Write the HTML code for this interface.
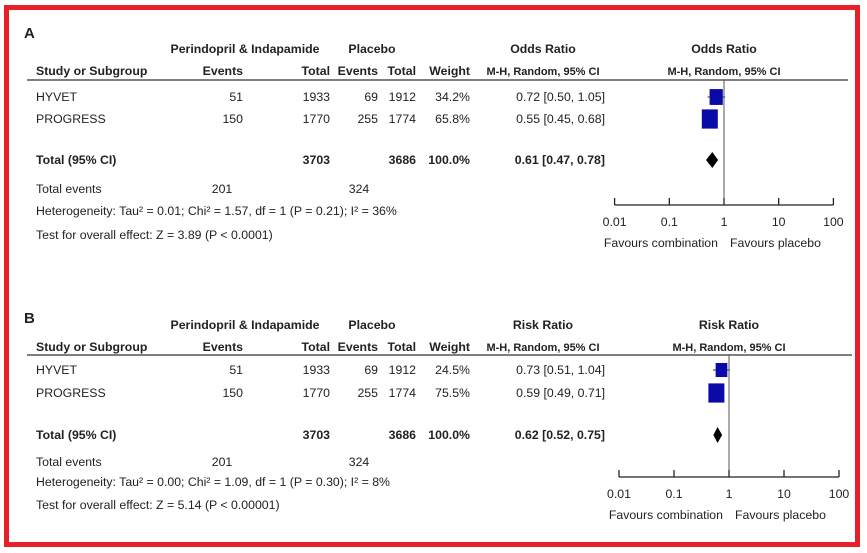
<!DOCTYPE html>
<html><head><meta charset="utf-8">
<style>
html,body{margin:0;padding:0;background:#fff;}
svg{display:block;font-family:"Liberation Sans",Arial,sans-serif;}
text{font-size:12.3px;fill:#222;}
.b{font-weight:bold;}
</style></head>
<body>
<svg id="chart" width="867" height="553" viewBox="0 0 867 553">
<rect x="6.5" y="7.5" width="851" height="537" fill="#fff" stroke="#e8202a" stroke-width="5"/>
</svg>
<script>
const studies = ["HYVET","PROGRESS"];
const expEvents = [51,150];
const expTotal = [1933,1770];
const plaEvents = [69,255];
const plaTotal = [1912,1774];
const weightsA = [34.2,65.8];
const estA = [0.72,0.55];
const lowA = [0.50,0.45];
const highA = [1.05,0.68];
const totalA = [0.61,0.47,0.78];
const weightsB = [24.5,75.5];
const estB = [0.73,0.59];
const lowB = [0.51,0.49];
const highB = [1.04,0.71];
const totalB = [0.62,0.52,0.75];
const tickVals = [0.01,0.1,1,10,100];
const tickLabels = ["0.01","0.1","1","10","100"];

const svg = document.getElementById('chart');
const NS = 'http://www.w3.org/2000/svg';
function mk(tag, attrs, txt){
  const e = document.createElementNS(NS, tag);
  for (const k in attrs) e.setAttribute(k, attrs[k]);
  if (txt !== undefined) e.textContent = txt;
  svg.appendChild(e);
  return e;
}
function t(x,y,s,anchor,bold,name){
  const e = mk('text',{x:x,y:y,'text-anchor':anchor||'start'},s);
  if (bold) e.setAttribute('class','b');
  
  
  return e;
}

function panel(p){
  const o = p.oy, L = p.lay;
  const xs = v => p.x1 + (Math.log10(v))*p.dec;
  t(24, p.letterY, p.letter, 'start', true, 'panel-label').setAttribute('style','font-size:15px');
  t(245, o+17, 'Perindopril & Indapamide','middle',true,'group-header-combination');
  t(372, o+17, 'Placebo','middle',true,'group-header-placebo');
  t(543, o+17, p.measure,'middle',true,'measure-header');
  t(p.x1, o+17, p.measure,'middle',true,'plot-header');
  t(36, o+39, 'Study or Subgroup','start',true,'col-study');
  t(243, o+39, 'Events','end',true,'col-events-combination');
  t(330, o+39, 'Total','end',true,'col-total-combination');
  t(378, o+39, 'Events','end',true,'col-events-placebo');
  t(416, o+39, 'Total','end',true,'col-total-placebo');
  t(470, o+39, 'Weight','end',true,'col-weight');
  const h1 = t(543, o+39, 'M-H, Random, 95% CI','middle',true,'col-ci');
  h1.setAttribute('style','font-size:11px');
  const h2 = t(p.x1, o+39, 'M-H, Random, 95% CI','middle',true,'plot-subheader');
  h2.setAttribute('style','font-size:11px');
  const hl = mk('line',{x1:27,x2:p.lineEnd,y1:o+L[0],y2:o+L[0],stroke:'#555','stroke-width':1.5});
  
  
  const rows = [o+L[1], o+L[2]];
  const wMax = Math.max.apply(null, p.w);
  studies.forEach((s,i)=>{
    const y = rows[i];
    t(36,y,s,'start',false,'study-name');
    t(243,y,String(expEvents[i]),'end',false,'events-combination');
    t(330,y,String(expTotal[i]),'end',false,'total-combination');
    t(378,y,String(plaEvents[i]),'end',false,'events-placebo');
    t(416,y,String(plaTotal[i]),'end',false,'total-placebo');
    t(470,y,p.w[i].toFixed(1)+'%','end',false,'weight');
    t(605,y,p.est[i].toFixed(2)+' ['+p.lo[i].toFixed(2)+', '+p.hi[i].toFixed(2)+']','end',false,'ci-text');
    const cy = y-4;
    const ci = mk('line',{x1:xs(p.lo[i]),x2:xs(p.hi[i]),y1:cy,y2:cy,stroke:'#333','stroke-width':1});
    
    
    const sz = 6 + 10*Math.sqrt(p.w[i]/wMax);
    const sq = mk('rect',{x:xs(p.est[i])-sz/2,y:cy-sz*0.6,width:sz,height:sz*1.2,fill:'#0a0aa8'});
    
    
  });
  const ty = o+L[3];
  t(36,ty,'Total (95% CI)','start',true,'total-label');
  t(330,ty,'3703','end',true,'total-combination-sum');
  t(416,ty,'3686','end',true,'total-placebo-sum');
  t(470,ty,'100.0%','end',true,'total-weight');
  t(605,ty,p.tot[0].toFixed(2)+' ['+p.tot[1].toFixed(2)+', '+p.tot[2].toFixed(2)+']','end',true,'total-ci-text');
  const dy = ty-4;
  const d = mk('polygon',{points:[xs(p.tot[1])+','+dy, xs(p.tot[0])+','+(dy-8), xs(p.tot[2])+','+dy, xs(p.tot[0])+','+(dy+8)].join(' '),fill:'#000'});
  
  
  t(36,o+L[4],'Total events','start',false,'total-events-label');
  t(222,o+L[4],'201','middle',false,'total-events-combination');
  t(359,o+L[4],'324','middle',false,'total-events-placebo');
  t(36,o+L[5],p.het,'start',false,'heterogeneity');
  t(36,o+L[6],p.test,'start',false,'overall-effect');
  const vl = mk('line',{x1:p.x1,x2:p.x1,y1:o+L[0],y2:p.axisY,stroke:'#555','stroke-width':1});
  
  
  const ax = mk('line',{x1:xs(tickVals[0]),x2:xs(tickVals[tickVals.length-1]),y1:p.axisY,y2:p.axisY,stroke:'#222','stroke-width':1.3});
  
  
  tickVals.forEach((v,i)=>{
    const tk = mk('line',{x1:xs(v),x2:xs(v),y1:p.axisY-7,y2:p.axisY,stroke:'#222','stroke-width':1.3});
    
    
    t(xs(v),p.axisY+21,tickLabels[i],'middle',false,'x-tick-label');
  });
  t(p.x1-6,p.axisY+42,'Favours combination','end',false,'favours-combination');
  t(p.x1+6,p.axisY+42,'Favours placebo','start',false,'favours-placebo');
}

panel({letter:'A',letterY:38,oy:36,measure:'Odds Ratio',x1:724,dec:54.7,axisY:205,lineEnd:848,
  lay:[44,65,87,128,157,179,203],
  w:weightsA,est:estA,lo:lowA,hi:highA,tot:totalA,
  het:'Heterogeneity: Tau² = 0.01; Chi² = 1.57, df = 1 (P = 0.21); I² = 36%',
  test:'Test for overall effect: Z = 3.89 (P < 0.0001)'});
panel({letter:'B',letterY:323,oy:312,measure:'Risk Ratio',x1:729,dec:55,axisY:477,lineEnd:852,
  lay:[43,62,85,127,154,174,197],
  w:weightsB,est:estB,lo:lowB,hi:highB,tot:totalB,
  het:'Heterogeneity: Tau² = 0.00; Chi² = 1.09, df = 1 (P = 0.30); I² = 8%',
  test:'Test for overall effect: Z = 5.14 (P < 0.00001)'});
</script>
</body></html>
